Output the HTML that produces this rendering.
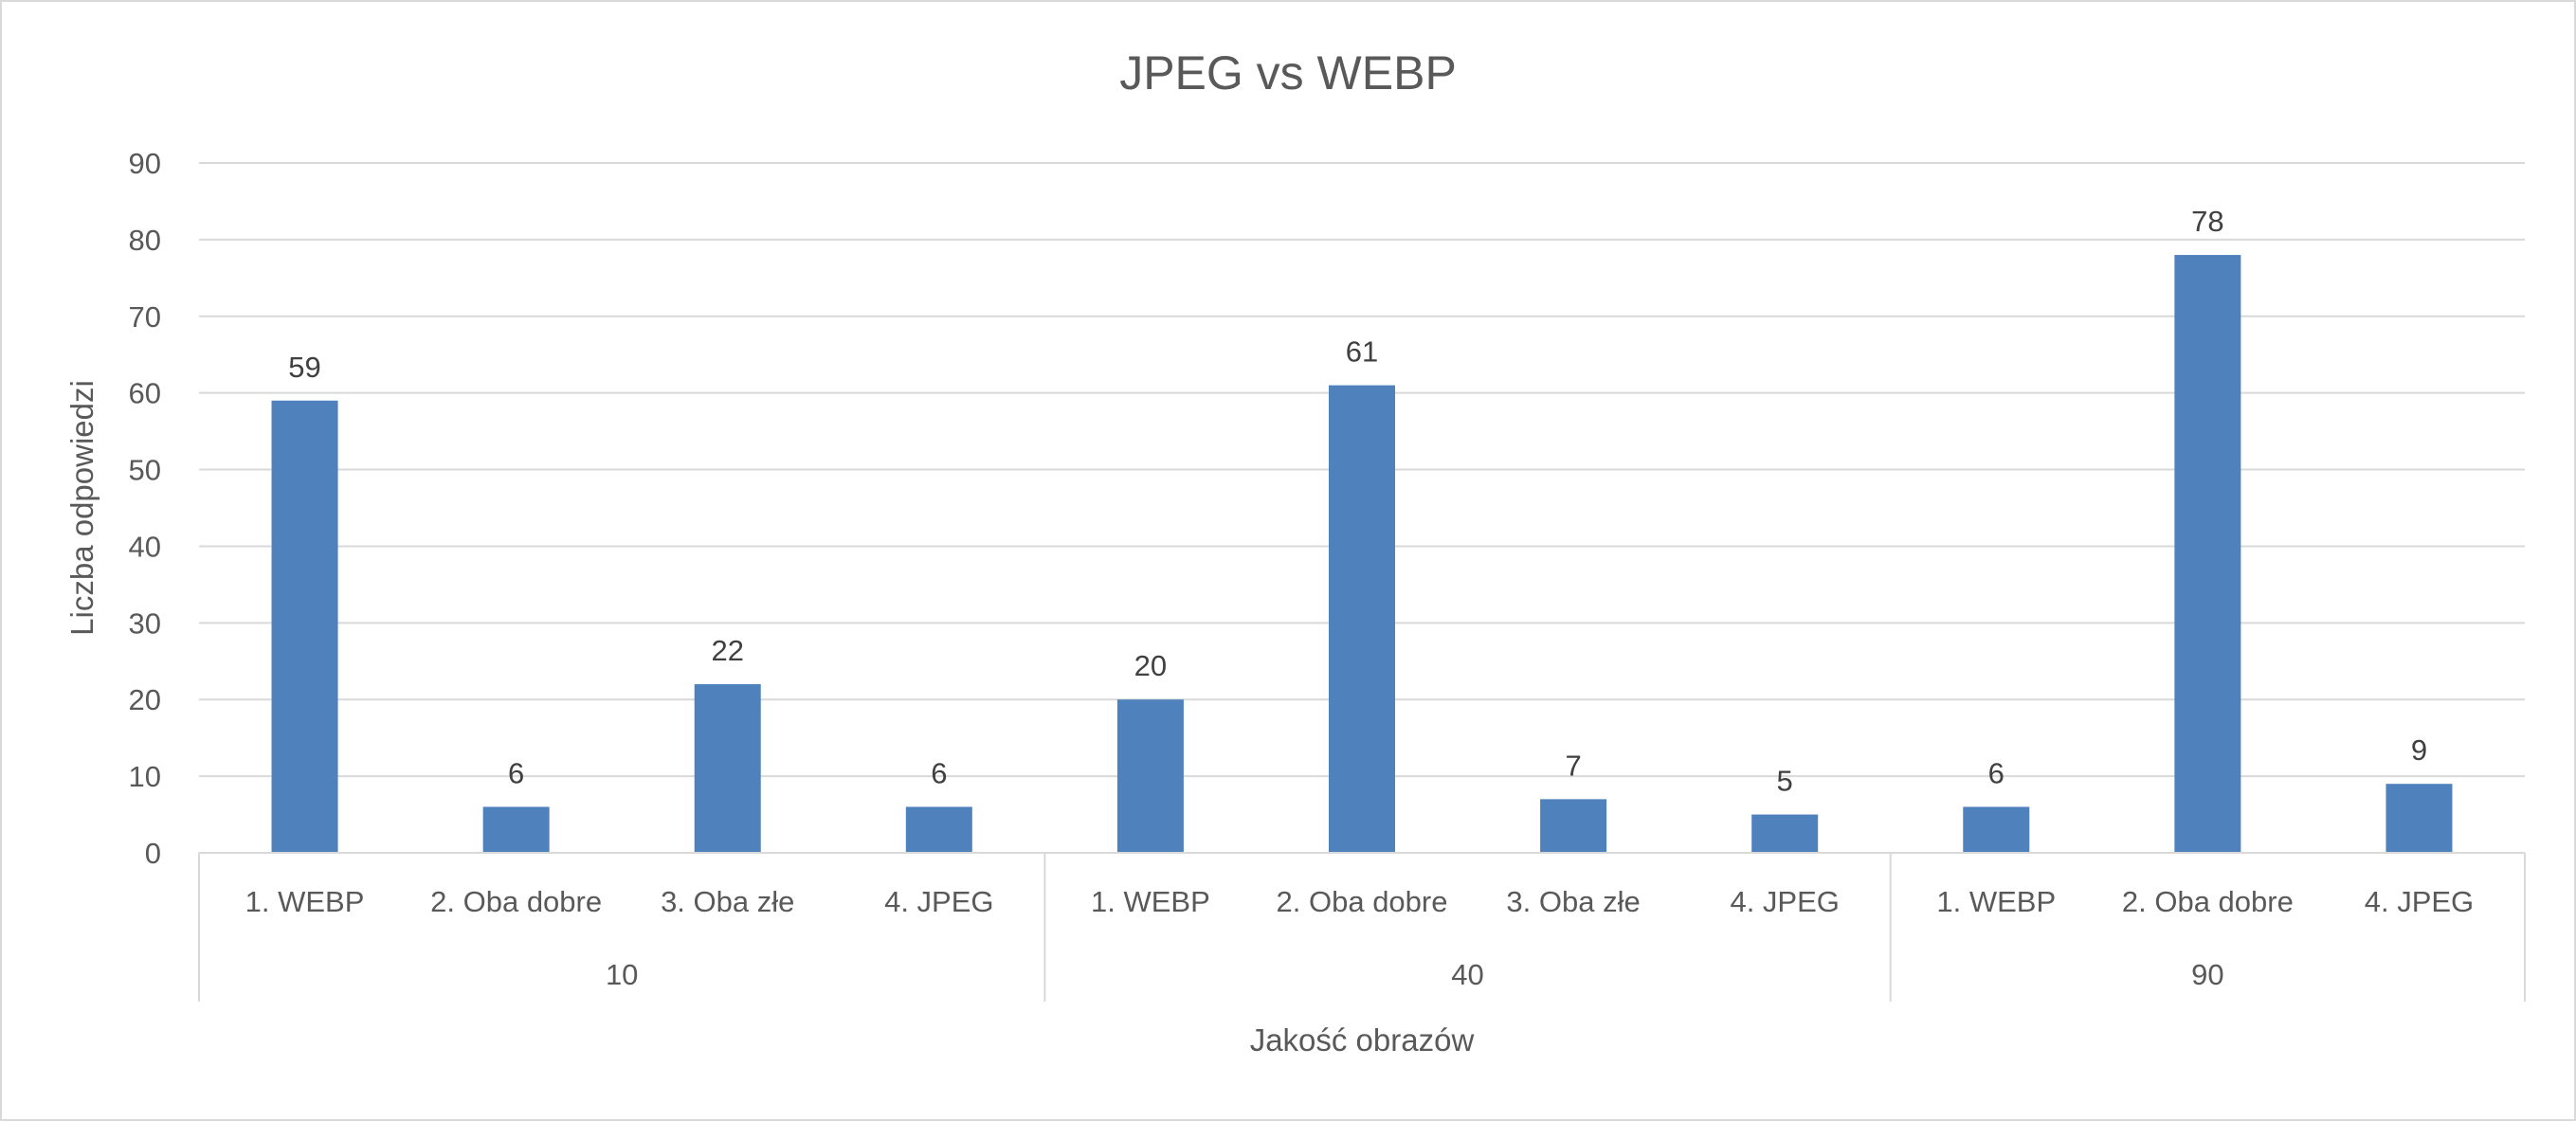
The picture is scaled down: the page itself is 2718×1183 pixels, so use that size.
<!DOCTYPE html>
<html><head><meta charset="utf-8"><style>
html,body{margin:0;padding:0;background:#fff;}
svg{display:block;font-family:"Liberation Sans",sans-serif;}
</style></head><body>
<svg id="chart" width="2718" height="1183" viewBox="0 0 2718 1183" xmlns="http://www.w3.org/2000/svg">
<rect x="1" y="1" width="2716" height="1181" fill="#fff" stroke="#d9d9d9" stroke-width="2"/>
<text x="1359" y="94" text-anchor="middle" font-size="50" fill="#595959">JPEG vs WEBP</text>
<g id="grid"></g>
<g id="bars"></g>
<g id="xaxis"></g>
<text transform="translate(98,536) rotate(-90)" text-anchor="middle" font-size="33" fill="#595959">Liczba odpowiedzi</text>
<text x="1437" y="1109" text-anchor="middle" font-size="33" fill="#595959">Jakość obrazów</text>
</svg>
<script>
const categories = ["1. WEBP","2. Oba dobre","3. Oba złe","4. JPEG","1. WEBP","2. Oba dobre","3. Oba złe","4. JPEG","1. WEBP","2. Oba dobre","4. JPEG"];
const values = [59,6,22,6,20,61,7,5,6,78,9];
const groups = ["10","40","90"];
const groupSizes = [4,4,3];
const yTicks = [0,10,20,30,40,50,60,70,80,90];

const NS="http://www.w3.org/2000/svg";
const L=210, R=2664, Y0=900, Y90=172, YMAX=90;
const band=(R-L)/categories.length;
const yScale=v=>Y0-(v/YMAX)*(Y0-Y90);
const xCenter=i=>L+band*(i+0.5);
function mk(tag,attrs,parent,text){const e=document.createElementNS(NS,tag);for(const k in attrs)e.setAttribute(k,attrs[k]);if(text!==undefined)e.textContent=text;parent.appendChild(e);return e;}
const grid=document.getElementById('grid'),bars=document.getElementById('bars'),xa=document.getElementById('xaxis');
yTicks.forEach(t=>{
  const y=yScale(t);
  const ln=mk('line',{x1:L,x2:R,y1:y,y2:y,stroke:'#d9d9d9','stroke-width':2},grid);
  
  
  const tx=mk('text',{x:170,y:y+11,'text-anchor':'end','font-size':31,fill:'#595959'},grid,String(t));
  
  
});
const bw=70;
values.forEach((v,i)=>{
  const cx=xCenter(i),y=yScale(v);
  const r=mk('rect',{x:cx-bw/2,y:y,width:bw,height:Y0-y,fill:'#4f81bd'},bars);
  
  
  const lb=mk('text',{x:cx,y:y-25,'text-anchor':'middle','font-size':31,fill:'#404040'},bars,String(v));
  
  
  const cl=mk('text',{x:cx,y:962,'text-anchor':'middle','font-size':31,fill:'#595959'},xa,categories[i]);
  
  
});
const ax=mk('line',{x1:L,x2:R,y1:Y0,y2:Y0,stroke:'#d9d9d9','stroke-width':2},xa);


let idx=0;
const bounds=[0];
groupSizes.forEach(s=>{idx+=s;bounds.push(idx);});
bounds.forEach((b,k)=>{
  const x=L+band*b;
  const s=mk('line',{x1:x,x2:x,y1:Y0,y2:1057,stroke:'#d9d9d9','stroke-width':2},xa);
  
  
});
groups.forEach((g,k)=>{
  const cx=L+band*(bounds[k]+bounds[k+1])/2;
  const t=mk('text',{x:cx,y:1039,'text-anchor':'middle','font-size':31,fill:'#595959'},xa,g);
  
  
});
</script>
</body></html>
